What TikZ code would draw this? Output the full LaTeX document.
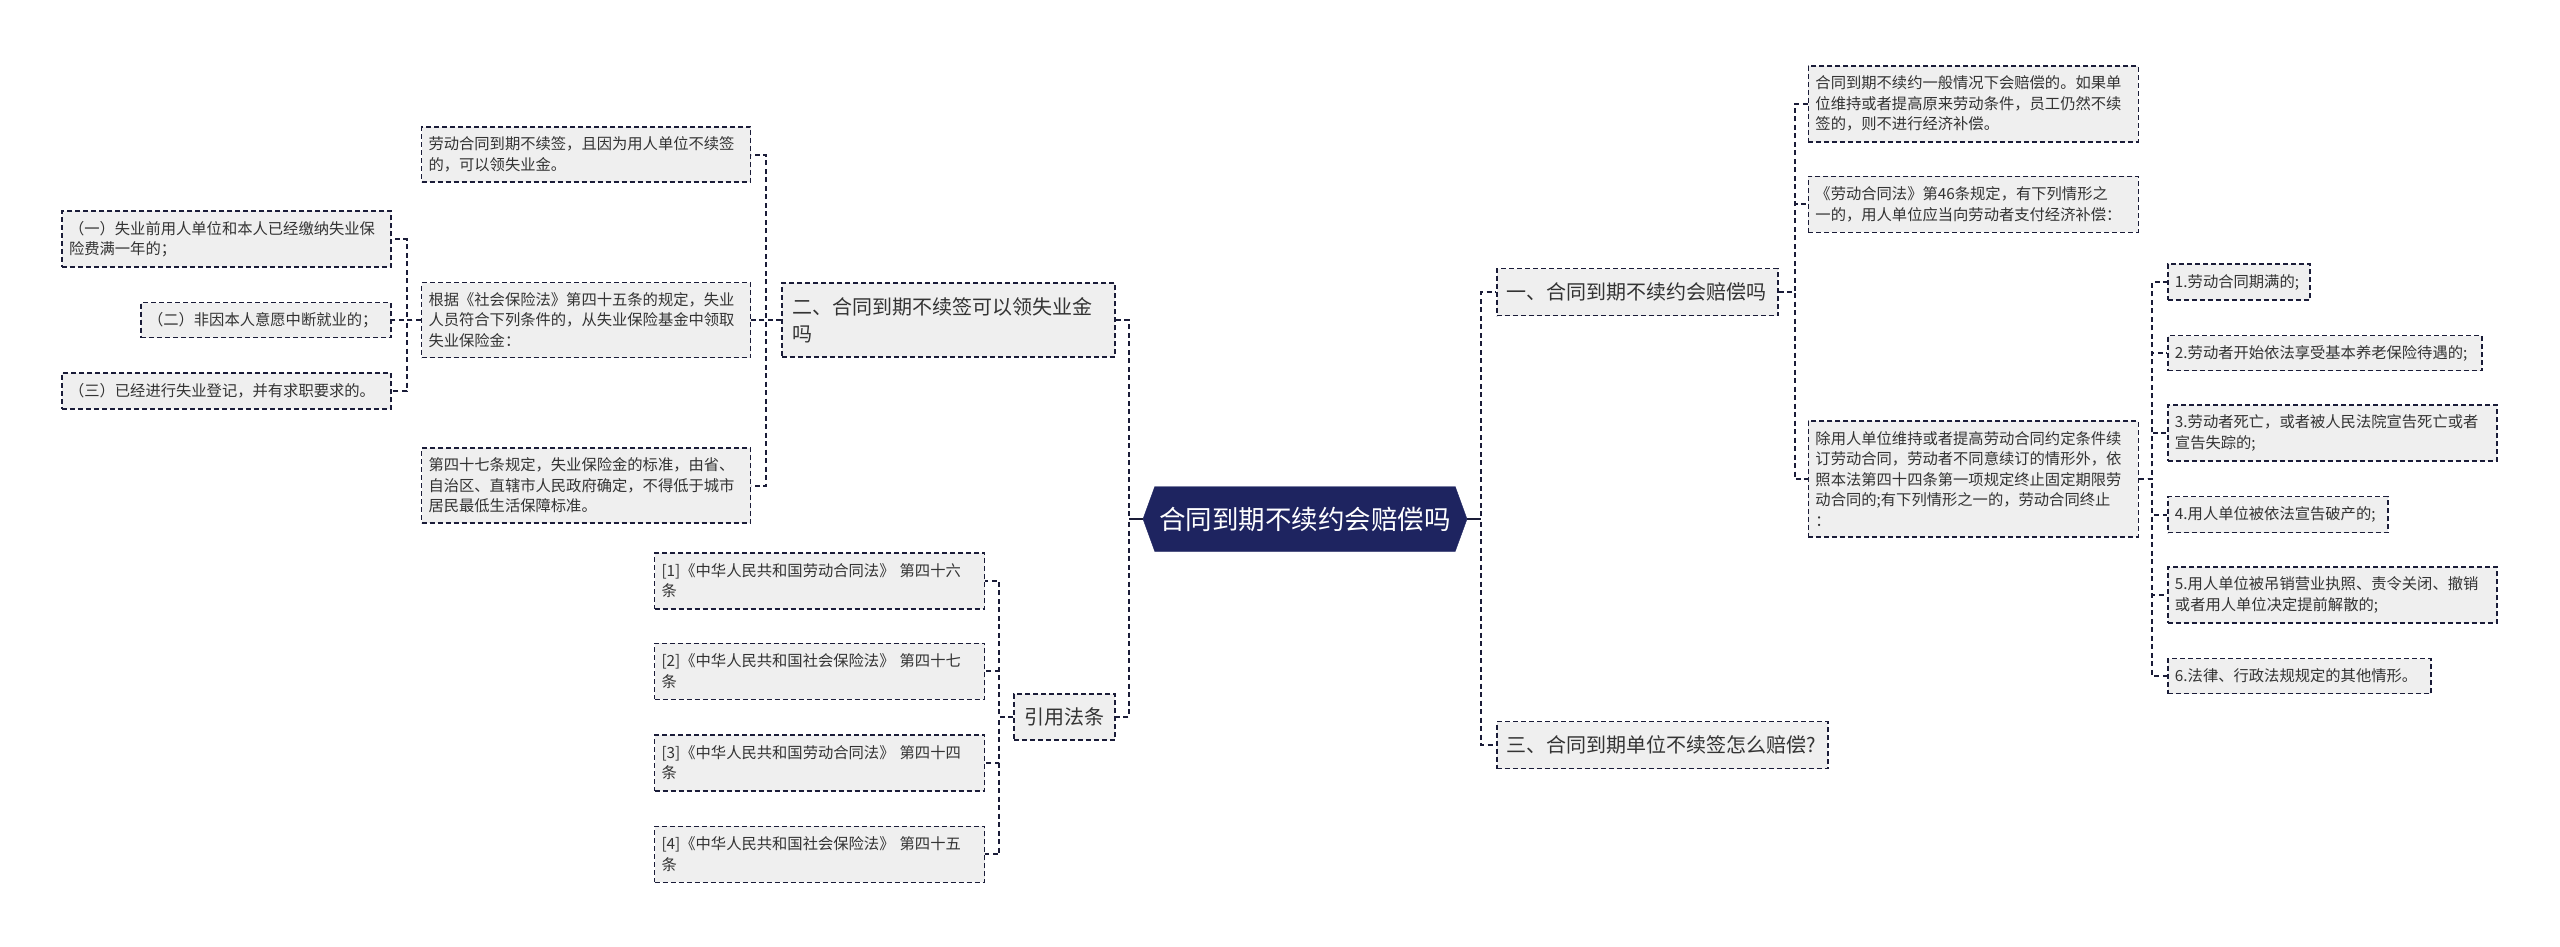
\documentclass[tikz,border=0pt]{standalone}
\usepackage{fontspec}
\setmainfont{Noto Sans CJK SC}
\usepackage{tikz}
\usetikzlibrary{positioning,shapes.symbols}
\definecolor{navy}{RGB}{30,36,96}
\definecolor{linecol}{RGB}{26,28,56}
\definecolor{boxgray}{RGB}{239,239,239}
\definecolor{textgray}{RGB}{51,51,51}
\tikzset{%
	hub/.style   = {shape=signal, signal to=west and east, signal pointer angle=140, fill=navy, draw=navy, text=white, minimum height=65pt, minimum width=324pt, inner xsep=2pt, font=\fontsize{26.5}{32}\selectfont}, % Root
	topic/.style = {draw=linecol, fill=boxgray, line width=1.5pt, dash pattern=on 5pt off 3pt, text=textgray, align=left, inner xsep=10pt, font=\fontsize{20}{27}\selectfont}, % First level
	leaf/.style  = {draw=linecol, fill=boxgray, line width=1.5pt, dash pattern=on 5pt off 3pt, text=textgray, align=left, inner xsep=7pt, font=\fontsize{15.3}{20.5}\selectfont}, % Details
	link/.style  = {draw=linecol, line width=2pt, dash pattern=on 5pt off 3.5pt}, % Connector
	stub/.style  = {draw=linecol, line width=2pt}, % Root connector
}

\begin{document}
\begin{tikzpicture}[x=1pt,y=1pt]
	\useasboundingbox (0,0) rectangle (2560,-946);
	\node [hub] (hub) at (1305,-519) {合同到期不续约会赔偿吗};
	
	\node [topic, text width=313pt, minimum height=74pt] (n2) [above left=199pt and 27pt of hub.west, anchor=east] {二、合同到期不续签可以领失业金\\吗};
	\node [leaf, text width=315pt, minimum height=75pt] (a2) [left=30pt of n2] {根据《社会保险法》第四十五条的规定，失业\\人员符合下列条件的，从失业保险基金中领取\\失业保险金：};
	\node [leaf, text width=315pt, minimum height=55pt] (a1) [above=99pt of a2] {劳动合同到期不续签，且因为用人单位不续签\\的，可以领失业金。};
	\node [leaf, text width=315pt, minimum height=75pt] (a3) [below=89pt of a2] {第四十七条规定，失业保险金的标准，由省、\\自治区、直辖市人民政府确定，不得低于城市\\居民最低生活保障标准。};
	\node [leaf, text width=236pt, minimum height=35pt] (b2) [left=29pt of a2] {（二）非因本人意愿中断就业的；};
	\node [leaf, text width=315pt, minimum height=56pt] (b1) [above=34pt of b2.north east, anchor=south east] {（一）失业前用人单位和本人已经缴纳失业保\\险费满一年的；};
	\node [leaf, text width=315pt, minimum height=36pt] (b3) [below=34pt of b2.south east, anchor=north east] {（三）已经进行失业登记，并有求职要求的。};
	
	\node [topic, text width=81pt, minimum height=46pt] (cite) [below left=198pt and 27pt of hub.west, anchor=east] {引用法条};
	\node [leaf, text width=316pt, minimum height=56pt] (r2) [above left=17pt and 28pt of cite.west, anchor=south east] {[2]《中华人民共和国社会保险法》 第四十七\\条};
	\node [leaf, text width=316pt, minimum height=56pt] (r3) [below left=17pt and 28pt of cite.west, anchor=north east] {[3]《中华人民共和国劳动合同法》 第四十四\\条};
	\node [leaf, text width=316pt, minimum height=56pt] (r1) [above=33pt of r2] {[1]《中华人民共和国劳动合同法》 第四十六\\条};
	\node [leaf, text width=316pt, minimum height=56pt] (r4) [below=34pt of r3] {[4]《中华人民共和国社会保险法》 第四十五\\条};
	
	\node [topic, text width=261pt, minimum height=47pt] (n1) [above right=227pt and 29pt of hub.east, anchor=west] {一、合同到期不续约会赔偿吗};
	\node [topic, text width=311pt, minimum height=47pt] (n3) [below right=226pt and 29pt of hub.east, anchor=west] {三、合同到期单位不续签怎么赔偿?};
	\node [leaf, text width=316pt, minimum height=56pt] (c2) [above right=59pt and 29pt of n1.east, anchor=south west] {《劳动合同法》第46条规定，有下列情形之\\一的，用人单位应当向劳动者支付经济补偿：};
	\node [leaf, text width=316pt, minimum height=76pt] (c1) [above=33pt of c2] {合同到期不续约一般情况下会赔偿的。如果单\\位维持或者提高原来劳动条件，员工仍然不续\\签的，则不进行经济补偿。};
	\node [leaf, text width=316pt, minimum height=116pt] (c3) [below=187pt of c2] {除用人单位维持或者提高劳动合同约定条件续\\订劳动合同，劳动者不同意续订的情形外，依\\照本法第四十四条第一项规定终止固定期限劳\\动合同的;有下列情形之一的，劳动合同终止\\：};
	\node [leaf, text width=315pt, minimum height=56pt] (d3) [above right=17pt and 28pt of c3.east, anchor=south west] {3.劳动者死亡，或者被人民法院宣告死亡或者\\宣告失踪的;};
	\node [leaf, text width=206pt, minimum height=36pt] (d4) [below right=17pt and 28pt of c3.east, anchor=north west] {4.用人单位被依法宣告破产的;};
	\node [leaf, text width=300pt, minimum height=35pt] (d2) [above=33pt of d3.north west, anchor=south west] {2.劳动者开始依法享受基本养老保险待遇的;};
	\node [leaf, text width=128pt, minimum height=36pt] (d1) [above=34pt of d2.north west, anchor=south west] {1.劳动合同期满的;};
	\node [leaf, text width=315pt, minimum height=56pt] (d5) [below=33pt of d4.south west, anchor=north west] {5.用人单位被吊销营业执照、责令关闭、撤销\\或者用人单位决定提前解散的;};
	\node [leaf, text width=249pt, minimum height=35pt] (d6) [below=34pt of d5.south west, anchor=north west] {6.法律、行政法规规定的其他情形。};
	
	\draw[link] (hub.west) -- ++(-14,0) |- (n2.east);
	\draw[link] (hub.west) -- ++(-14,0) |- (cite.east);
	\draw[link] (hub.east) -- ++(14,0) |- (n1.west);
	\draw[link] (hub.east) -- ++(14,0) |- (n3.west);
	\draw[stub] (hub.west) -- ++(-14,0);
	\draw[stub] (hub.east) -- ++(14,0);
	\draw[link] (n2.west) -- ++(-15,0) |- (a1.east);
	\draw[link] (n2.west) -- ++(-15,0) |- (a2.east);
	\draw[link] (n2.west) -- ++(-15,0) |- (a3.east);
	\draw[link] (a2.west) -- ++(-14,0) |- (b1.east);
	\draw[link] (a2.west) -- ++(-14,0) |- (b2.east);
	\draw[link] (a2.west) -- ++(-14,0) |- (b3.east);
	\draw[link] (cite.west) -- ++(-14,0) |- (r1.east);
	\draw[link] (cite.west) -- ++(-14,0) |- (r2.east);
	\draw[link] (cite.west) -- ++(-14,0) |- (r3.east);
	\draw[link] (cite.west) -- ++(-14,0) |- (r4.east);
	\draw[link] (n1.east) -- ++(16,0) |- (c1.west);
	\draw[link] (n1.east) -- ++(16,0) |- (c2.west);
	\draw[link] (n1.east) -- ++(16,0) |- (c3.west);
	\draw[link] (c3.east) -- ++(13,0) |- (d1.west);
	\draw[link] (c3.east) -- ++(13,0) |- (d2.west);
	\draw[link] (c3.east) -- ++(13,0) |- (d3.west);
	\draw[link] (c3.east) -- ++(13,0) |- (d4.west);
	\draw[link] (c3.east) -- ++(13,0) |- (d5.west);
	\draw[link] (c3.east) -- ++(13,0) |- (d6.west);
\end{tikzpicture}
\end{document}
